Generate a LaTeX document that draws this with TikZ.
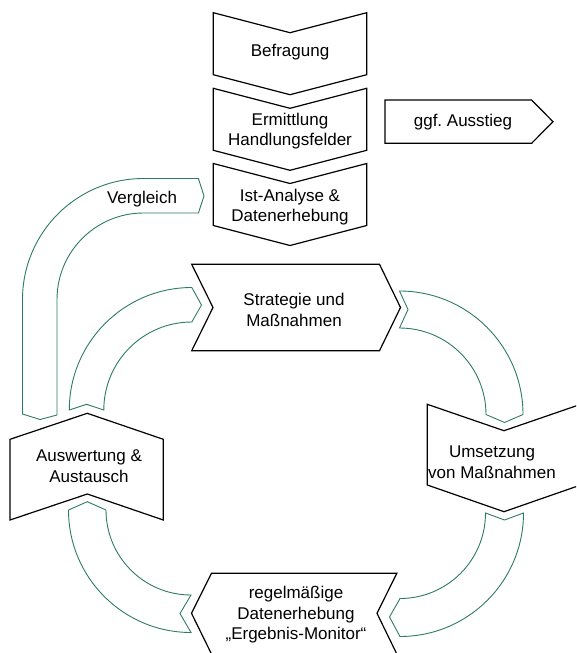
\documentclass[tikz,border=0pt]{standalone}
\usepackage{fontspec}
\setmainfont{Liberation Sans}
\usepackage{tikz}
\definecolor{cyclegreen}{RGB}{46,125,94}
\tikzset{
	box/.style={draw=black, line width=1.2pt, fill=white, line join=miter},
	cyclearrow/.style={draw=cyclegreen, line width=0.9pt, fill=white},
	lbl/.style={align=center, inner sep=0pt, font=\fontsize{17}{20.5}\selectfont}
}
\def\chevdown(#1){\draw[box] (213.3,#1) -- (290,{#1+20}) -- (366.7,#1) -- (366.7,{#1+62}) -- (290,{#1+82}) -- (213.3,{#1+62}) -- cycle;}

\begin{document}
\frenchspacing
\begin{tikzpicture}[x=1pt, y=-1pt]
			%%%%% START %%%%%
			\clip (0,0) rectangle (576,653);
			
			% linear part
			\chevdown(12.7);
			\chevdown(88.3);
			\chevdown(163.5);
			\draw[box] (385,100) -- (531.6,100) -- (553,121.7) -- (531.6,143.3) -- (385,143.3) -- cycle;
			
			% back to the start
			\draw[cyclearrow] (22.5,414) -- (22.5,299.5) arc[start angle=180, end angle=270, radius=121] -- (198.4,178.5) -- (204,196) -- (198.4,213) -- (143.5,213) arc[start angle=270, end angle=180, radius=86.5] -- (57,415) -- (40,419.5) -- cycle;
			
			% cycle arrows
			\draw[cyclearrow] (69.3,410) arc[start angle=180, end angle=270, radius=122.5] -- (201.5,305) -- (191.8,322) arc[start angle=270, end angle=180, radius=88] -- (86.5,404.3) -- cycle;
			\draw[cyclearrow] (399.5,291) arc[start angle=270, end angle=360, radius=123.5] -- (504.5,422.5) -- (486,414.5) arc[start angle=0, end angle=-90, radius=86.5] -- (408,309.5) -- cycle;
			\draw[cyclearrow] (523.5,513) arc[start angle=0, end angle=90, radius=123.5] -- (389.5,617) -- (400,598.5) arc[start angle=90, end angle=0, radius=85.5] -- (504.5,520) -- cycle;
			\draw[cyclearrow] (191,632.5) arc[start angle=90, end angle=180, radius=122.5] -- (87.3,501.7) -- (106,510) arc[start angle=180, end angle=90, radius=85] -- (180,613.5) -- cycle;
			
			% cycle steps
			\draw[box] (191.7,264.3) -- (379.5,264.3) -- (400.5,307.5) -- (379.5,350.7) -- (191.7,350.7) -- (213,307.5) -- cycle;
			\draw[box] (427.3,404.3) -- (504,430.7) -- (580.7,404.3) -- (580.7,485) -- (504,511.7) -- (427.3,485) -- cycle;
			\draw[box] (211.5,573.3) -- (396.8,573.3) -- (377,613.3) -- (396.8,654) -- (211.5,654) -- (191.5,613.3) -- cycle;
			\draw[box] (10,439.3) -- (87.3,413.3) -- (163.3,439.3) -- (163.3,520) -- (87.3,494) -- (10,520) -- cycle;
			
			% texts
			\node[lbl] (befragung) at (290,52) {Befragung};
			\node[lbl] (ermittlung) at (290,131) {Ermittlung\\Handlungsfelder};
			\node[lbl] (istanalyse) at (290,207) {Ist-Analyse \&\\Datenerhebung};
			\node[lbl] (ausstieg) at (463,121.7) {ggf. Ausstieg};
			\node[lbl] (vergleich) at (142,199) {Vergleich};
			\node[lbl] (strategie) at (294,310) {Strategie und\\Maßnahmen};
			\node[lbl] (umsetzung) at (492,462) {Umsetzung\\von Maßnahmen};
			\node[lbl] (auswertung) at (89,466) {Auswertung \&\\Austausch};
			\node[lbl] (monitor) at (296,615) {regelmäßige\\Datenerhebung\\„Ergebnis-Monitor“};
			
			%%%%% END %%%%%
\end{tikzpicture}
\end{document}
